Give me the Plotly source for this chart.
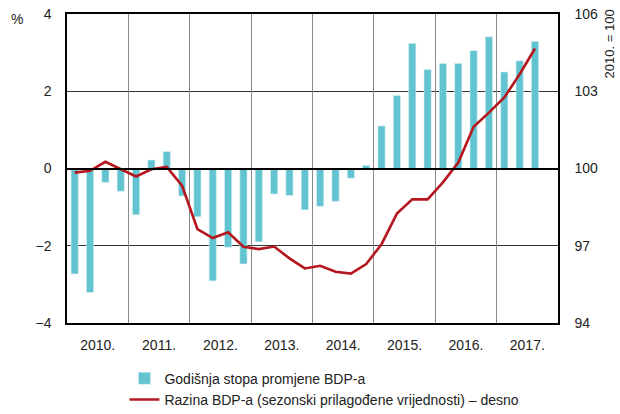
import plotly.graph_objects as go

years = ["2010.", "2011.", "2012.", "2013.", "2014.", "2015.", "2016.", "2017."]
quarters = list(range(31))
growth = [-2.73, -3.21, -0.36, -0.59,
          -1.20, 0.22, 0.44, -0.71,
          -1.25, -2.91, -2.04, -2.47,
          -1.90, -0.66, -0.70, -1.07,
          -0.98, -0.85, -0.25, 0.08,
          1.10, 1.89, 3.24, 2.56,
          2.72, 2.72, 3.05, 3.41,
          2.50, 2.79, 3.29]
level = [99.84, 99.91, 100.26, 99.97,
         99.69, 99.97, 100.06, 99.33,
         97.65, 97.30, 97.52, 96.96,
         96.87, 96.97, 96.51, 96.12,
         96.22, 95.99, 95.92, 96.29,
         97.06, 98.25, 98.80, 98.80,
         99.46, 100.23, 101.62, 102.17,
         102.76, 103.66, 104.66]
left_ticks = [-4, -2, 0, 2, 4]
right_ticks = [94, 97, 100, 103, 106]

FONT = "Liberation Sans, Arial, sans-serif"
BAR = "#62C3D1"
LINE = "#B5171E"
TXT = "#222222"

year_centers = [4 * i + 1.5 for i in range(len(years))]
year_bounds = [4 * i - 0.5 for i in range(1, len(years))]
xr = [-0.5, 31.5]

fig = go.Figure()
fig.add_trace(go.Bar(x=quarters, y=growth, width=0.47,
                     marker=dict(color=BAR, line=dict(width=0.6, color="#d8f0f4")),
                     name="Godišnja stopa promjene BDP-a", xaxis="x", yaxis="y"))
fig.add_trace(go.Scatter(x=quarters, y=level, mode="lines", line=dict(color=LINE, width=2.6),
                         name="Razina BDP-a (sezonski prilagođene vrijednosti) – desno",
                         xaxis="x", yaxis="y2"))

fig.update_layout(
    width=620, height=414,
    margin=dict(l=67, r=62, t=14, b=91, autoexpand=False),
    paper_bgcolor="white", plot_bgcolor="white",
    font=dict(family=FONT, size=14, color=TXT),
    showlegend=True,
    legend=dict(x=0.117, y=0.124, xref="paper", yref="container", xanchor="left", yanchor="top",
                bgcolor="rgba(0,0,0,0)", font=dict(size=14, color=TXT), tracegroupgap=0),
    xaxis=dict(range=xr, tickmode="array", tickvals=year_centers, ticktext=years,
               showgrid=False, ticks="", showline=True, linecolor="black", linewidth=1.5, mirror=True,
               zeroline=False, ticklabelstandoff=8),
    xaxis2=dict(range=xr, overlaying="x", tickmode="array", tickvals=year_bounds,
                showticklabels=False, showgrid=True, gridcolor="#8a8a8a", gridwidth=1.2,
                ticks="", showline=False, zeroline=False),
    # baseline at zero of the left axis, drawn above the bars
    xaxis3=dict(range=xr, overlaying="x", anchor="free", position=0.5, showline=True,
                linecolor="black", linewidth=1.5, showticklabels=False, showgrid=False,
                zeroline=False, ticks="", layer="above traces"),
    yaxis=dict(range=[-4, 4], tickmode="array", tickvals=left_ticks, showgrid=True,
               gridcolor="#333333", gridwidth=1, zeroline=False, ticks="",
               showline=True, linecolor="black", linewidth=1.5, ticklabelstandoff=11),
    yaxis2=dict(range=[94, 106], tickmode="array", tickvals=right_ticks, overlaying="y", side="right",
                showgrid=False, zeroline=False, ticks="", showline=True, linecolor="black",
                linewidth=1.5, ticklabelstandoff=12),
    annotations=[
        dict(text="%", xref="paper", yref="paper", x=-0.119, y=1.017, xanchor="left", yanchor="top",
             showarrow=False, font=dict(size=14, color=TXT)),
        dict(text="2010. = 100", xref="paper", yref="paper", x=1.104, y=1.02, xanchor="center",
             yanchor="top", textangle=-90, showarrow=False, font=dict(size=13, color=TXT)),
    ],
)
# invisible helper traces to activate the overlay axes (grid and zero baseline)
fig.add_trace(go.Scatter(x=[quarters[0]], y=[growth[0]], xaxis="x2", yaxis="y", mode="markers",
                         marker=dict(opacity=0), showlegend=False, hoverinfo="skip"))
fig.add_trace(go.Scatter(x=[quarters[0]], y=[growth[0]], xaxis="x3", yaxis="y", mode="markers",
                         marker=dict(opacity=0), showlegend=False, hoverinfo="skip"))

fig.write_html("out.html", config={"displayModeBar": False},
               post_script="document.body.style.margin='0px';document.body.style.overflow='hidden';")
